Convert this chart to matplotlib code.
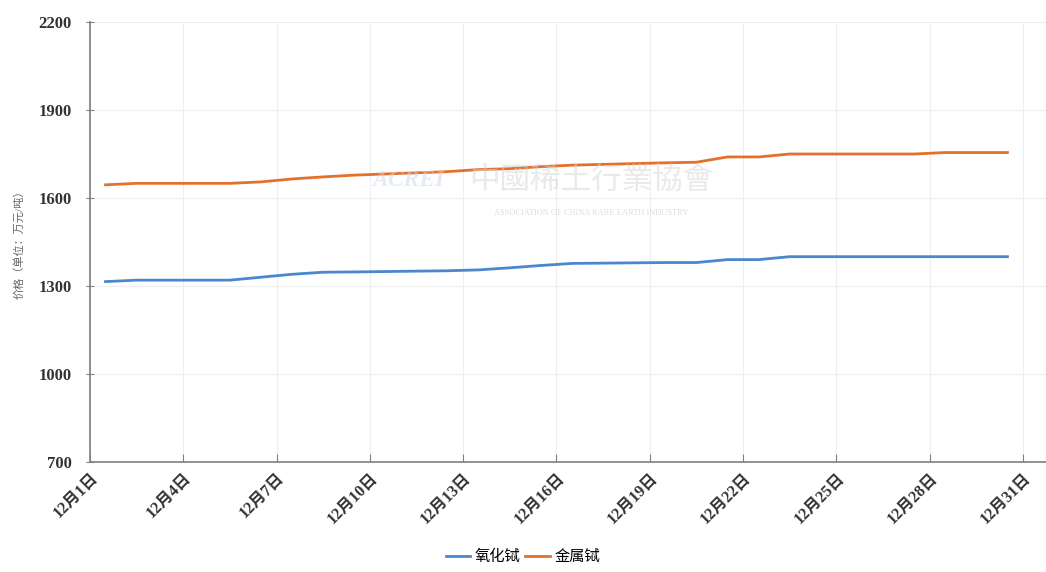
import numpy as np
import matplotlib.pyplot as plt

plt.rcParams['font.family'] = ['Liberation Serif', 'Noto Sans CJK SC', 'DejaVu Sans']

# ----------------------------
# Data (Dec trading days, price in 万元/吨)
# ----------------------------
days = [1, 2, 5, 6, 7, 8, 9, 12, 13, 14, 15, 16, 19, 20, 21, 22, 23, 26, 27, 28, 29, 30]
tb_oxide = [1315, 1320, 1320, 1330, 1340, 1347, 1348, 1352, 1355, 1362, 1370, 1377,
            1380, 1380, 1390, 1390, 1400, 1400, 1400, 1400, 1400, 1400]
tb_metal = [1645, 1650, 1650, 1655, 1665, 1672, 1678, 1690, 1697, 1700, 1707, 1712,
            1720, 1722, 1740, 1740, 1750, 1750, 1750, 1755, 1755, 1755]
tick_days = list(range(1, 32, 3))
tick_labels = [f"12月{d}日" for d in tick_days]
series_names = ["氧化铽", "金属铽"]

# points sit in the middle of each day slot
x = np.array(days) - 0.5
xt = np.array(tick_days) - 1

fig = plt.figure(figsize=(10.46, 5.72), dpi=100)
ax = fig.add_axes([0.086, 0.1923, 0.914, 0.7692])

ax.plot(x, tb_oxide, color="#4a87cf", lw=2, label=series_names[0])
ax.plot(x, tb_metal, color="#e5702c", lw=2, label=series_names[1])

ax.set_xlim(0, 30.74)
ax.set_ylim(700, 2200)
ax.set_yticks(np.arange(700, 2201, 300))
ax.set_xticks(xt)
ax.set_xticklabels(tick_labels, rotation=45, ha="right", va="top",
                   rotation_mode="anchor", fontsize=11.5, color="#333333",
                   fontweight="bold")
for lab in ax.get_yticklabels():
    lab.set_fontweight("bold")
    lab.set_fontsize(12)
    lab.set_color("#333333")

ax.grid(True, color="#eeeeee", lw=0.8)
ax.set_axisbelow(True)
for s in ["top", "right"]:
    ax.spines[s].set_visible(False)
for s in ["left", "bottom"]:
    ax.spines[s].set_color("#7f7f7f")
    ax.spines[s].set_linewidth(1.2)
ax.tick_params(axis="y", direction="inout", length=6, color="#7f7f7f", pad=10)
ax.tick_params(axis="x", direction="in", length=6, color="#7f7f7f", pad=6)

ax.set_ylabel("价格（单位：万元/吨）", fontsize=8, color="#666666", labelpad=10)

# faint watermark
fig.text(0.39, 0.685, "ACREI", fontsize=17, color="#c9d8ea", alpha=0.5,
         fontweight="bold", style="italic", ha="center", va="center")
fig.text(0.565, 0.685, "中國稀土行業協會", fontsize=22, color="#d4d4d4", alpha=0.5,
         ha="center", va="center", family=["Noto Sans CJK TC"])
fig.text(0.565, 0.627, "ASSOCIATION OF CHINA RARE EARTH INDUSTRY", fontsize=6,
         color="#d0d0d0", alpha=0.7, ha="center", va="center")

fig.legend(loc="lower center", bbox_to_anchor=(0.5, -0.01), ncol=2, frameon=False,
           handlelength=1.6, handletextpad=0.3, columnspacing=0.3, fontsize=11)

fig.savefig("out.png", dpi=100)
